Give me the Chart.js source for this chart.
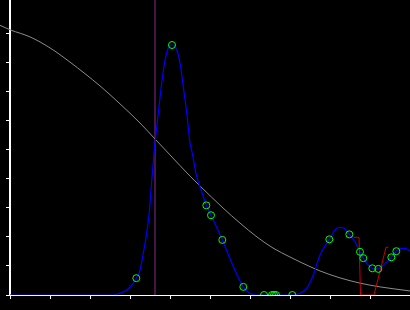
<!DOCTYPE html>
<html>
<head>
<meta charset="utf-8">
<script src="https://cdn.jsdelivr.net/npm/chart.js@4/dist/chart.umd.min.js"></script>
<style>
  html, body { margin: 0; padding: 0; background: #000; }
  #wrap { width: 410px; height: 310px; }
</style>
</head>
<body>
<div id="wrap"><canvas id="c" width="410" height="310"></canvas></div>
<script>
// ---- data ----
const grayX = [-0.25, 0.01, 0.5, 1.0, 1.5, 2.25, 2.75, 3.25, 3.625, 4.0, 4.5, 4.75, 5.325, 5.75, 6.175, 6.575, 7.0, 7.25, 7.75, 8.25, 8.75, 9.25, 10.0];
const grayY = [9.30, 9.14, 8.90, 8.52, 8.03, 7.21, 6.59, 5.93, 5.38, 4.83, 4.10, 3.76, 3.00, 2.48, 2.00, 1.62, 1.31, 1.14, 0.83, 0.59, 0.41, 0.28, 0.14];

const blueX = [0, 2.575, 2.75, 2.918, 3.043, 3.158, 3.25, 3.333, 3.418, 3.488, 3.538, 3.608, 3.638, 3.708, 3.793, 3.875, 3.958, 4.05, 4.168, 4.25, 4.333, 4.418, 4.5, 4.55, 4.668, 4.75, 4.908, 5.025, 5.308, 5.583, 5.833, 6.0, 6.168, 7.058, 7.25, 7.418, 7.583, 7.75, 7.983, 8.125, 8.25, 8.375, 8.483, 8.625, 8.75, 8.833, 8.958, 9.058, 9.138, 9.208, 9.333, 9.533, 9.658, 9.793, 9.875, 10.0];
const blueY = [0, 0, 0.06, 0.17, 0.34, 0.58, 0.86, 1.45, 2.14, 2.93, 3.86, 5.0, 5.41, 6.28, 7.31, 8.10, 8.52, 8.62, 8.45, 8.0, 7.17, 6.28, 5.24, 4.93, 4.08, 3.73, 3.09, 2.75, 1.90, 0.98, 0.28, 0.06, 0, 0, 0.06, 0.23, 0.69, 1.38, 1.92, 2.24, 2.33, 2.28, 2.09, 1.84, 1.49, 1.27, 1.03, 0.92, 0.88, 0.90, 1.03, 1.30, 1.51, 1.61, 1.61, 1.52];

const markX = [3.158, 4.05, 4.908, 5.025, 5.308, 5.833, 6.35, 6.55, 6.6, 6.65, 7.058, 7.983, 8.483, 8.75, 8.833, 9.058, 9.208, 9.533, 9.658];
const markY = [0.58, 8.62, 3.09, 2.75, 1.90, 0.28, 0, 0, 0, 0, 0, 1.92, 2.09, 1.49, 1.27, 0.92, 0.90, 1.30, 1.51];

const redX = [8.6, 8.725, 8.7625, 9.1, 9.4, 9.458];
const redY = [1.99, 1.99, 0, 0, 1.645, 1.645];

const cursorX = 3.625;
const xTicks = [0, 1, 2, 3, 4, 5, 6, 7, 8, 9, 10];
const yTicks = [0, 1, 2, 3, 4, 5, 6, 7, 8, 9];
const yMax = 10.172;

const pts = (xs, ys) => xs.map((x, i) => ({ x: x, y: ys[i] }));

new Chart(document.getElementById('c'), {
  type: 'scatter',
  data: {
    datasets: [
      { data: pts(markX, markY), showLine: false, pointRadius: 3.5, pointBorderWidth: 1,
        pointBorderColor: '#00ff00', pointBackgroundColor: 'rgba(0,0,0,0)', order: 0 },
      { data: pts(redX, redY), showLine: true, borderColor: '#cc0000', borderWidth: 1,
        pointRadius: 0, tension: 0, order: 1 },
      { data: pts(blueX, blueY), showLine: true, borderColor: '#0000ff', borderWidth: 1.2,
        pointRadius: 0, cubicInterpolationMode: 'monotone', order: 2 },
      { data: pts(grayX, grayY), showLine: true, borderColor: '#8c8c8c', borderWidth: 1,
        pointRadius: 0, cubicInterpolationMode: 'monotone', clip: false, order: 3 },
      { data: [{ x: cursorX, y: 0 }, { x: cursorX, y: yMax }], showLine: true,
        borderColor: '#8a2a8a', borderWidth: 1, pointRadius: 0, order: 4 }
    ]
  },
  options: {
    responsive: false,
    animation: false,
    events: [],
    layout: { padding: 0, autoPadding: false },
    plugins: { legend: { display: false }, tooltip: { enabled: false } },
    scales: {
      x: {
        type: 'linear', min: 0, max: 10,
        afterBuildTicks: s => { s.ticks = xTicks.map(v => ({ value: v })); },
        afterFit: s => { s.height = 15; },
        ticks: { display: false },
        grid: { display: true, drawOnChartArea: false, drawTicks: true, tickLength: 4, color: '#ffffff', lineWidth: 1 },
        border: { display: true, color: '#ffffff', width: 1 }
      },
      y: {
        type: 'linear', min: 0, max: yMax,
        afterBuildTicks: s => { s.ticks = yTicks.map(v => ({ value: v })); },
        afterFit: s => { s.width = 10; },
        ticks: { display: false },
        grid: { display: true, drawOnChartArea: false, drawTicks: true, tickLength: 4, color: '#ffffff', lineWidth: 1 },
        border: { display: true, color: '#ffffff', width: 2 }
      }
    }
  },
  plugins: [{
    id: 'bg',
    beforeDraw: c => { const x = c.ctx; x.save(); x.fillStyle = '#000'; x.fillRect(0, 0, c.width, c.height); x.restore(); }
  }]
});
</script>
</body>
</html>
